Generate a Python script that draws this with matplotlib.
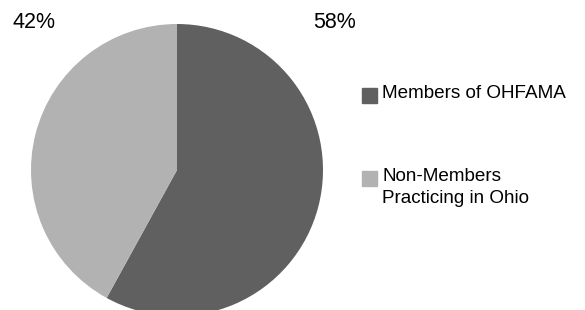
import matplotlib.pyplot as plt
from matplotlib.patches import Rectangle

labels = ["Members of OHFAMA", "Non-Members\nPracticing in Ohio"]
values = [58, 42]
colors = ["#606060", "#b2b2b2"]

plt.rcParams['font.family'] = ['Liberation Sans', 'DejaVu Sans']

W, H = 585, 310
fig = plt.figure(figsize=(W / 100, H / 100), dpi=100)

# pie centred at (177, 170) px, radius 146
ax = fig.add_axes([31 / W, (H - 316) / H, 292 / W, 292 / H])
ax.pie(values, colors=colors, startangle=90, counterclock=False, radius=1)
ax.set_xlim(-1, 1)
ax.set_ylim(-1, 1)
ax.set_aspect('equal')
ax.axis('off')

# percentage labels
pct_pos = [(335, 22), (34, 22)]
for v, (px, py) in zip(values, pct_pos):
    fig.text(px / W, 1 - py / H, f"{v}%", fontsize=15.5, ha='center', va='center')

# legend drawn by hand
leg_y = [96, 179]
for lab, c, y in zip(labels, colors, leg_y):
    fig.patches.append(Rectangle((362 / W, 1 - (y + 7) / H), 15 / W, 15 / H,
                                 transform=fig.transFigure, color=c, figure=fig))
    fig.text(382 / W, 1 - (y - 11) / H, lab, fontsize=13.6, ha='left', va='top',
             linespacing=1.4)

fig.savefig("out.png", dpi=100)
